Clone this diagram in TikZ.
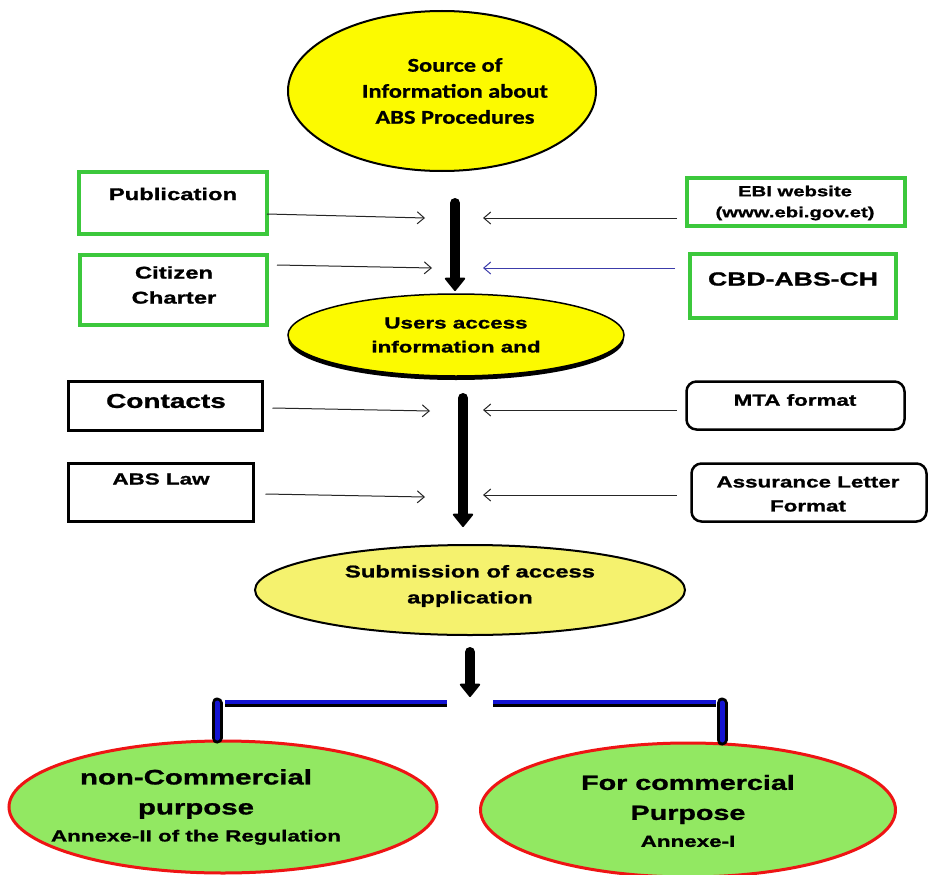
\documentclass[tikz,border=0pt]{standalone}
\usepackage{fontspec}
\setmainfont{Liberation Sans}[FakeStretch=1.4,BoldFeatures={FakeBold=1.2}]
\newfontfamily\calfont{Carlito}[FakeStretch=1.25,BoldFeatures={FakeBold=0.8}]
\usetikzlibrary{arrows.meta,shapes.geometric,shadows}
\definecolor{boxgreen}{RGB}{60,200,60}
\definecolor{yel}{RGB}{252,250,0}
\definecolor{paleyel}{RGB}{245,242,110}
\definecolor{lgreen}{RGB}{146,232,98}
\definecolor{ered}{RGB}{238,20,20}
\definecolor{barblue}{RGB}{20,20,210}
\definecolor{arrblue}{RGB}{60,60,170}
\newcommand{\fsz}[2]{\fontsize{#1}{#2}\selectfont}
\begin{document}
\begin{tikzpicture}[x=1pt,y=-1pt,
 gbox/.style={draw=boxgreen,line width=3.5pt,inner sep=0pt,outer sep=0pt},
 bbox/.style={draw=black,line width=2.5pt,inner sep=0pt,outer sep=0pt},
 rbox/.style={bbox,rounded corners=10pt},
 txt/.style={align=center,inner sep=0pt},
 thinarr/.style={draw=black!85,line width=1pt,-{Straight Barb[length=7pt,width=12pt]}},
 bigarr/.style={line width=10pt,line cap=round,-{Triangle[width=22pt,length=14pt,line width=2pt,round]}},
 oval/.style={ellipse,inner sep=0pt,outer sep=0pt},
]
\useasboundingbox (0,0) rectangle (929,875);
\fill[white] (0,0) rectangle (929,875);

% ellipses
\node[oval,draw,line width=2pt,fill=yel,minimum width=308pt,minimum height=160pt] (src) at (442,91) {};
\node[txt,font=\calfont\bfseries\fsz{19.5}{26}] (srcT) at (455,91) {Source of\\Information about\\ABS Procedures};

\node[oval,draw,line width=1.5pt,fill=yel,minimum width=336pt,minimum height=82pt,
  drop shadow={shadow xshift=0pt,shadow yshift=-4pt,fill=black,opacity=1}] (users) at (456,335) {};
\node[txt,font=\bfseries\fsz{16}{24}] (usersT) at (456,335) {Users access\\information and};

\node[oval,draw,line width=2pt,fill=paleyel,minimum width=430pt,minimum height=90pt] (sub) at (470,590) {};
\node[txt,font=\bfseries\fsz{17}{26}] (subT) at (470,586) {Submission of access\\application};

\node[oval,draw=ered,line width=3pt,fill=lgreen,minimum width=428pt,minimum height=132pt] (nonc) at (223,807) {};
\node[txt,font=\bfseries\fsz{21}{30}] (noncT) at (196,807) {non-Commercial\\purpose\\[-3pt]{\fsz{16}{20}Annexe-II of the Regulation}};

\node[oval,draw=ered,line width=3pt,fill=lgreen,minimum width=415pt,minimum height=134pt] (com) at (688,810) {};
\node[txt,font=\bfseries\fsz{20.5}{30}] (comT) at (688,811) {For commercial\\Purpose\\[-3pt]{\fsz{16}{20}Annexe-I}};

% boxes
\node[gbox,minimum width=188pt,minimum height=62pt] (pub) at (173,203) {};
\node[txt,font=\bfseries\fsz{17}{25}] (pubT) at (173,194) {Publication};
\node[gbox,minimum width=187pt,minimum height=70pt] (cit) at (173.5,290) {};
\node[txt,font=\bfseries\fsz{17}{25}] (citT) at (174,285) {Citizen\\Charter};
\node[gbox,minimum width=218pt,minimum height=48pt] (ebi) at (796,202) {};
\node[txt,font=\bfseries\fsz{14.5}{21}] (ebiT) at (795,203) {EBI website\\(www.ebi.gov.et)};
\node[gbox,minimum width=206pt,minimum height=64pt] (cbd) at (793,286) {};
\node[txt,font=\bfseries\fsz{19}{25}] (cbdT) at (793,279) {CBD-ABS-CH};

\node[bbox,minimum width=194pt,minimum height=49pt] (con) at (165.5,406) {};
\node[txt,font=\bfseries\fsz{20}{25}] (conT) at (166,401) {Contacts};
\node[bbox,minimum width=185pt,minimum height=58pt] (law) at (161,492.5) {};
\node[txt,font=\bfseries\fsz{16}{24}] (lawT) at (161,479) {ABS Law};
\node[rbox,minimum width=218pt,minimum height=48pt] (mta) at (795.5,405.5) {};
\node[txt,font=\bfseries\fsz{16}{24}] (mtaT) at (795,400) {MTA format};
\node[rbox,minimum width=235pt,minimum height=58pt] (ass) at (809,492.5) {};
\node[txt,font=\bfseries\fsz{16}{24}] (assT) at (808,494) {Assurance Letter\\Format};

% thin arrows
\coordinate (t1) at (425,218);
\coordinate (t2) at (483,218);
\coordinate (t3) at (432,268);
\coordinate (t4) at (483,268);
\coordinate (t5) at (430,411);
\coordinate (t6) at (483,410);
\coordinate (t7) at (425,497);
\coordinate (t8) at (483,495);
\draw[thinarr] ([yshift=-11pt]pub.east) -- (t1);
\draw[thinarr] ([xshift=-10pt,yshift=-16pt]ebi.west) -- (t2);
\draw[thinarr] ([xshift=10pt,yshift=25pt]cit.east) -- (t3);
\draw[thinarr,draw=arrblue] ([xshift=-15pt,yshift=18pt]cbd.west) -- (t4);
\draw[thinarr] ([xshift=10pt,yshift=-2pt]con.east) -- (t5);
\draw[thinarr] ([xshift=-10pt,yshift=-4.5pt]mta.west) -- (t6);
\draw[thinarr] ([xshift=12pt,yshift=-1.5pt]law.east) -- (t7);
\draw[thinarr] ([xshift=-15pt,yshift=-2.5pt]ass.west) -- (t8);

% thick arrows
\coordinate (a1s) at (455,203);
\coordinate (a1e) at (455,291);
\coordinate (a2s) at (463,398);
\coordinate (a2e) at (463,527);
\coordinate (a3s) at (470,652);
\coordinate (a3e) at (470,697);
\draw[bigarr] (a1s) -- (a1e);
\draw[bigarr] (a2s) -- (a2e);
\draw[bigarr] (a3s) -- (a3e);

% branch bars
\coordinate (bl0) at (217,738);
\coordinate (bl1) at (217,703);
\coordinate (bh1) at (225,703.5);
\coordinate (bh2) at (447,703.5);
\coordinate (br1) at (493,703.5);
\coordinate (br2) at (716,703.5);
\coordinate (br3) at (722,703);
\coordinate (br4) at (722,740);
\draw[line width=7pt,black] (bh1) -- (bh2) (br1) -- (br2);
\draw[line width=4pt,barblue] ([yshift=1.5pt]bh1) -- ([yshift=1.5pt]bh2) ([yshift=1.5pt]br1) -- ([yshift=1.5pt]br2);
\draw[line width=11pt,black,line cap=round] (bl1) -- (bl0);
\draw[line width=5pt,barblue,line cap=round] (bl1) -- (bl0);
\draw[line width=11pt,black,line cap=round] (br3) -- (br4);
\draw[line width=5pt,barblue,line cap=round] (br3) -- (br4);
\end{tikzpicture}
\end{document}
